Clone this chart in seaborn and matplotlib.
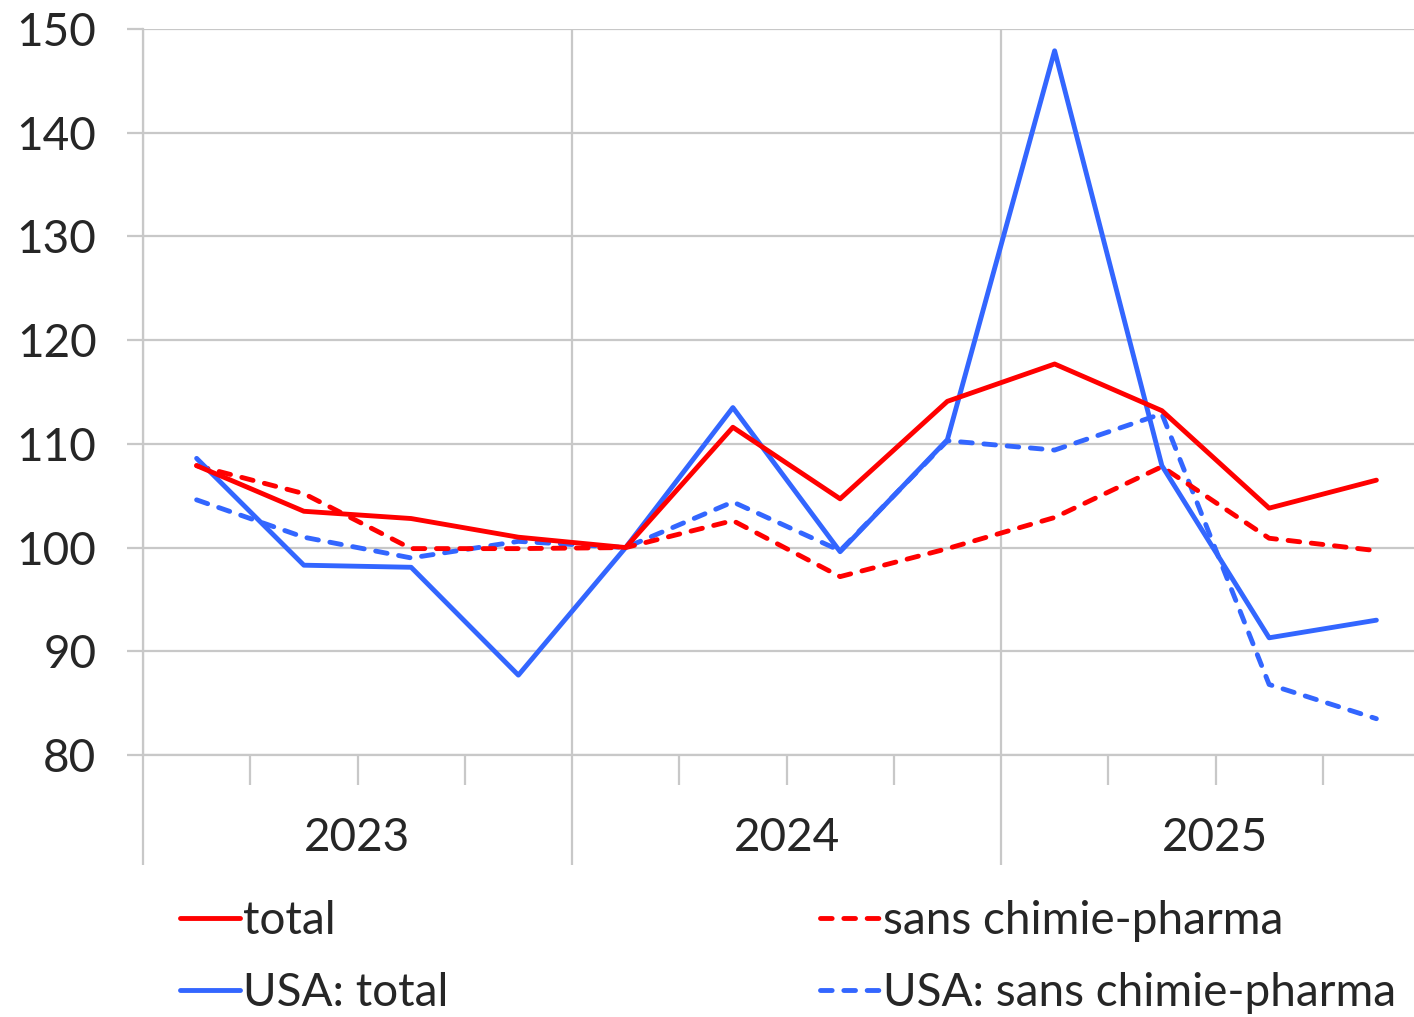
import numpy as np
import pandas as pd
import matplotlib
matplotlib.use("Agg")
import matplotlib.pyplot as plt
from matplotlib.lines import Line2D
import seaborn as sns

# données (trimestres 2023-2025)
years = ["2023", "2024", "2025"]
total = [107.9, 103.5, 102.8, 101.0, 100.0, 111.6, 104.7, 114.1, 117.7, 113.2, 103.8, 106.5]
sans_cp = [107.9, 105.2, 99.9, 99.9, 100.0, 102.6, 97.2, 99.9, 102.9, 107.8, 100.9, 99.7]
usa_total = [108.6, 98.3, 98.1, 87.7, 100.0, 113.5, 99.6, 110.4, 147.9, 107.9, 91.3, 93.0]
usa_sans_cp = [104.6, 101.0, 99.0, 100.6, 100.0, 104.4, 99.7, 110.3, 109.4, 112.9, 86.8, 83.5]

labels = ["total", "USA: total", "sans chimie-pharma", "USA: sans chimie-pharma"]
series = [total, usa_total, sans_cp, usa_sans_cp]
RED, BLUE = "#FF0000", "#3366FF"
DASH = (2.4, 2.4)
LW = 3.5
palette = {labels[0]: RED, labels[1]: BLUE, labels[2]: RED, labels[3]: BLUE}
dash_map = {labels[0]: "", labels[1]: "", labels[2]: DASH, labels[3]: DASH}

df = pd.concat(
    [pd.DataFrame({"x": np.arange(len(v)), "valeur": v, "serie": lab}) for lab, v in zip(labels, series)],
    ignore_index=True,
)

sns.set_style("white")
plt.rcParams["font.family"] = ["Lato", "DejaVu Sans"]
GRID = "#C8C8C8"
FS = 33

fig = plt.figure(figsize=(14.14, 10.17), dpi=100)
ax = fig.add_axes([143 / 1414, 262 / 1017, 1287 / 1414, 726 / 1017])

sns.lineplot(data=df, x="x", y="valeur", hue="serie", style="serie",
             palette=palette, dashes=dash_map, hue_order=labels[::-1],
             style_order=labels[::-1], linewidth=LW, legend=False, ax=ax)
for ln in ax.lines:
    ln.set_dash_capstyle("round")
    ln.set_solid_capstyle("round")

ax.set_xlim(-0.5, 11.5)
ax.set_ylim(80, 150)
ax.set_yticks(range(80, 151, 10))
ax.set_xticks([-0.5, 3.5, 7.5, 11.5])
ax.set_xticklabels([])
ax.set_xticks([0.5, 1.5, 2.5, 4.5, 5.5, 6.5, 8.5, 9.5, 10.5], minor=True)
ax.set_xlabel("")
ax.set_ylabel("")

ax.grid(True, axis="both", which="major", color=GRID, linewidth=1.6)
ax.set_axisbelow(True)
for s in ["top", "right"]:
    ax.spines[s].set_visible(False)
for s in ["left", "bottom"]:
    ax.spines[s].set_color(GRID)
    ax.spines[s].set_linewidth(1.6)

ax.tick_params(axis="y", which="major", length=11.5, width=1.6, color=GRID,
               labelsize=FS, pad=22, left=True)
ax.tick_params(axis="x", which="major", length=79, width=1.6, color=GRID, bottom=True)
ax.tick_params(axis="x", which="minor", length=21.6, width=1.6, color=GRID, bottom=True)

for i, yr in enumerate(years):
    ax.text(4 * i + 1.5, -0.114, yr, transform=ax.get_xaxis_transform(),
            ha="center", va="center", fontsize=FS)

def handle(color, dashed):
    return Line2D([], [], color=color, linewidth=LW,
                  linestyle=(0, DASH) if dashed else "-",
                  dash_capstyle="round", solid_capstyle="round")

leg_kw = dict(loc="center left", frameon=False, fontsize=FS, handlelength=1.31,
              handletextpad=0.07, labelspacing=0.66, borderpad=0, borderaxespad=0)
fig.legend([handle(RED, False), handle(BLUE, False)], labels[:2],
           bbox_to_anchor=(180 / 1414, 1 - 957 / 1017), **leg_kw)
fig.legend([handle(RED, True), handle(BLUE, True)], labels[2:],
           bbox_to_anchor=(820 / 1414, 1 - 957 / 1017), **leg_kw)

plt.savefig("out.png", dpi=100)
plt.close()
